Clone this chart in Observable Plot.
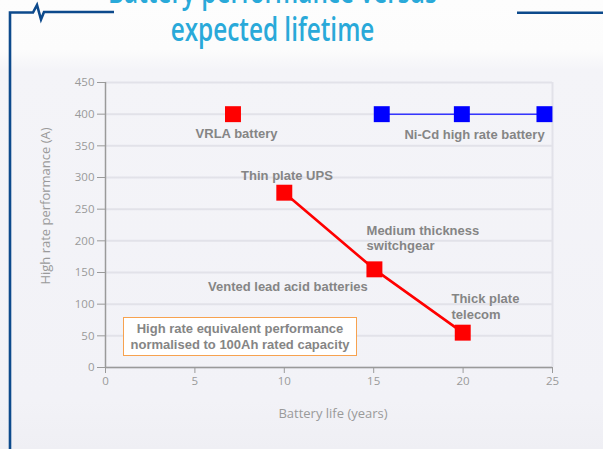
<!DOCTYPE html>
<html><head><meta charset="utf-8">
<script src="https://cdn.jsdelivr.net/npm/d3@7"></script>
<script src="https://cdn.jsdelivr.net/npm/@observablehq/plot@0.6"></script>
<style>
html,body{margin:0;padding:0;}
body{width:603px;height:449px;overflow:hidden;position:relative;
  background:linear-gradient(#fdfdfd 0px,#fcfcfc 50px,#f4f4f8 70px,#f2f2f7 400px,#efeff4 449px);}
#chart{position:absolute;left:0;top:0;}
.title{position:absolute;left:0;width:545px;text-align:center;font-family:"Open Sans",sans-serif;
  font-size:32px;line-height:32px;font-weight:600;color:#29a9d9;transform:scaleX(0.76);transform-origin:272.5px 0;white-space:nowrap;}
#t1{top:-25.4px;}
#t2{top:13.3px;}
#frame{position:absolute;left:0;top:0;}
#note{position:absolute;left:123px;top:317px;width:234px;height:39px;box-sizing:border-box;border:1.5px solid #f7a24f;background:#fff;
  font-family:"Liberation Sans",Arial,sans-serif;font-weight:bold;font-size:13px;line-height:16px;color:#858585;text-align:center;padding-top:3px;}
</style></head>
<body>
<div id="chart"></div>
<svg id="frame" width="603" height="449"><path d="M10,449 L10,12.5 L33,12.5 L37,5 L41,19.5 L44,12 L114,12" fill="none" stroke="#0d4a8c" stroke-width="2.6"/><path d="M517,12.8 L603,12.8" stroke="#0d4a8c" stroke-width="2.6"/></svg>
<div class="title" id="t1">Battery performance versus</div>
<div class="title" id="t2">expected lifetime</div>
<div id="note">High rate equivalent performance<br>normalised to 100Ah rated capacity</div>
<script>
// Data
const xTicks = [0, 5, 10, 15, 20, 25];
const yTicks = [0, 50, 100, 150, 200, 250, 300, 350, 400, 450];
const vrlaX = [7.13];
const vrlaY = [400];
const nicdX = [15.45, 19.93, 24.55];
const nicdY = [400, 400, 400];
const ventedX = [10.0, 15.04, 19.98];
const ventedY = [276, 155, 55];
// Annotations (data coordinates)
const centerLabels = ["VRLA battery", "Ni-Cd high rate battery", "Thin plate UPS", "Vented lead acid batteries"];
const centerLabelX = [7.33, 20.64, 10.15, 10.2];
const centerLabelY = [369, 367, 303, 127];
const startLabels = ["Medium thickness\nswitchgear", "Thick plate\ntelecom"];
const startLabelX = [14.6, 19.35];
const startLabelY = [205, 97];
const xLabel = "Battery life (years)";
const yLabel = "High rate performance (A)";

const toPts = (xs, ys) => xs.map((x, i) => ({x, y: ys[i]}));
const vrla = toPts(vrlaX, vrlaY);
const nicd = toPts(nicdX, nicdY);
const vented = toPts(ventedX, ventedY);
const cLab = centerLabels.map((t, i) => ({t, x: centerLabelX[i], y: centerLabelY[i]}));
const sLab = startLabels.map((t, i) => ({t, x: startLabelX[i], y: startLabelY[i]}));

const axisColor = "#9a9a9a";
const labFont = {fontFamily: "Liberation Sans, Arial, sans-serif", fontWeight: "bold", fontSize: 13, fill: "#858585"};

const chart = Plot.plot({
  width: 603, height: 449,
  marginLeft: 105, marginRight: 51, marginTop: 82, marginBottom: 82,
  style: {background: "transparent", fontFamily: "Open Sans, sans-serif"},
  x: {domain: [0, 25], label: null},
  y: {domain: [0, 450], label: null},
  marks: [
    Plot.gridY(yTicks, {stroke: "#e2e2e9", strokeOpacity: 1, strokeWidth: 2}),
    Plot.gridX([25], {stroke: "#e2e2e9", strokeOpacity: 1, strokeWidth: 2}),
    Plot.axisY(yTicks, {tickSize: 8, tickPadding: 3, stroke: axisColor, fill: axisColor, fontSize: 11.5, label: null}),
    Plot.axisX(xTicks, {tickSize: 6, tickPadding: 3, stroke: axisColor, fill: axisColor, fontSize: 11.5, label: null}),
    Plot.ruleY([0], {stroke: axisColor, strokeWidth: 1.5}),
    Plot.ruleX([0], {stroke: axisColor, strokeWidth: 1.5}),
    Plot.text([xLabel], {frameAnchor: "bottom", text: d => d, textAnchor: "middle", lineAnchor: "middle", dx: 4, dy: 46, fill: axisColor, fontSize: 13}),
    Plot.text([yLabel], {frameAnchor: "left", text: d => d, textAnchor: "middle", lineAnchor: "middle", dx: -60, dy: -19, rotate: -90, fill: axisColor, fontSize: 13}),
    Plot.line(nicd, {x: "x", y: "y", stroke: "#3535ff", strokeWidth: 1.5}),
    Plot.line(vented, {x: "x", y: "y", stroke: "#ff0000", strokeWidth: 2.6}),
    Plot.dot(vrla, {x: "x", y: "y", symbol: "square", r: 9, fill: "#ff0000", stroke: null}),
    Plot.dot(vented, {x: "x", y: "y", symbol: "square", r: 9, fill: "#ff0000", stroke: null}),
    Plot.dot(nicd, {x: "x", y: "y", symbol: "square", r: 9, fill: "#0000ff", stroke: null}),
    Plot.text(cLab, {x: "x", y: "y", text: "t", textAnchor: "middle", ...labFont}),
    Plot.text(sLab, {x: "x", y: "y", text: "t", textAnchor: "start", lineHeight: 1.2, ...labFont})
  ]
});
document.getElementById("chart").appendChild(chart);
</script>
</body></html>
